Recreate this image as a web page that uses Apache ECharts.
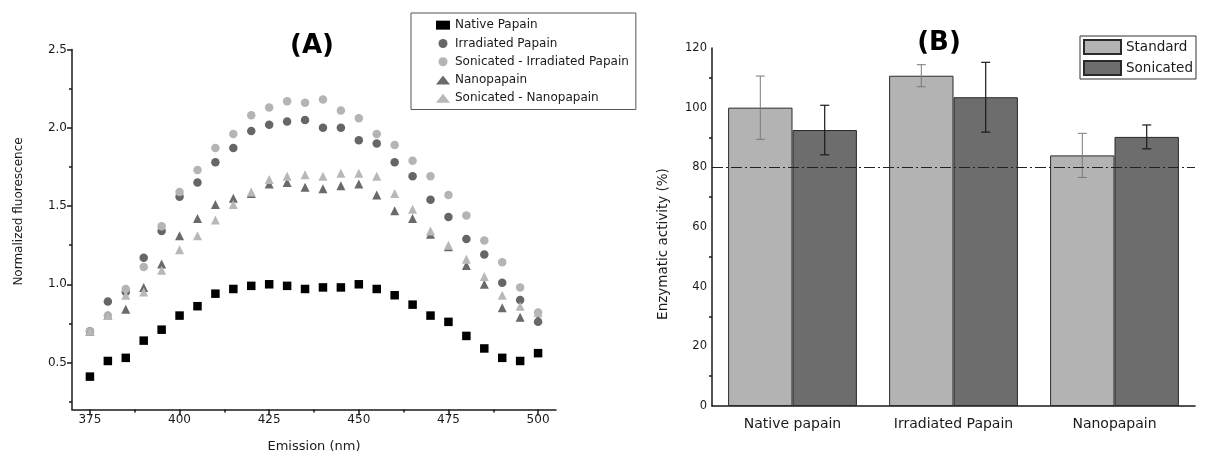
<!DOCTYPE html>
<html>
<head>
<meta charset="utf-8">
<script src="https://cdn.jsdelivr.net/npm/echarts@6/dist/echarts.min.js"></script>
<style>
  html, body { margin: 0; padding: 0; background: #fff; }
  #chart { width: 1213px; height: 462px; }
</style>
</head>
<body>
<div id="chart"></div>
<script>
// Panel A data (emission scan)
var wavelengths = [375, 380, 385, 390, 395, 400, 405, 410, 415, 420, 425, 430, 435,
                   440, 445, 450, 455, 460, 465, 470, 475, 480, 485, 490, 495, 500];
var nativePapain = [0.41, 0.51, 0.53, 0.64, 0.71, 0.80, 0.86, 0.94, 0.97, 0.99, 1.00, 0.99, 0.97,
                    0.98, 0.98, 1.00, 0.97, 0.93, 0.87, 0.80, 0.76, 0.67, 0.59, 0.53, 0.51, 0.56];
var irradiatedPapain = [0.70, 0.89, 0.95, 1.17, 1.34, 1.56, 1.65, 1.78, 1.87, 1.98, 2.02, 2.04, 2.05,
                        2.00, 2.00, 1.92, 1.90, 1.78, 1.69, 1.54, 1.43, 1.29, 1.19, 1.01, 0.90, 0.76];
var sonicatedIrradiated = [0.70, 0.80, 0.97, 1.11, 1.37, 1.59, 1.73, 1.87, 1.96, 2.08, 2.13, 2.17, 2.16,
                           2.18, 2.11, 2.06, 1.96, 1.89, 1.79, 1.69, 1.57, 1.44, 1.28, 1.14, 0.98, 0.82];
var nanopapain = [0.70, 0.80, 0.84, 0.98, 1.13, 1.31, 1.42, 1.51, 1.55, 1.58, 1.64, 1.65, 1.62,
                  1.61, 1.63, 1.64, 1.57, 1.47, 1.42, 1.32, 1.24, 1.12, 1.00, 0.85, 0.79, 0.78];
var sonicatedNano = [0.70, 0.80, 0.93, 0.95, 1.09, 1.22, 1.31, 1.41, 1.51, 1.59, 1.67, 1.69, 1.70,
                     1.69, 1.71, 1.71, 1.69, 1.58, 1.48, 1.34, 1.25, 1.16, 1.05, 0.93, 0.86, 0.82];
var xMajorTicks = [375, 400, 425, 450, 475, 500];
var xMinorTicks = [387.5, 412.5, 437.5, 462.5, 487.5];
var yMajorTicks = [0.5, 1.0, 1.5, 2.0, 2.5];
var yMinorTicks = [0.25, 0.75, 1.25, 1.75, 2.25];

// Panel B data (enzymatic activity)
var samples = ['Native papain', 'Irradiated Papain', 'Nanopapain'];
var standard = [100, 110.7, 84.0];
var standardErr = [10.6, 3.7, 7.4];
var sonicated = [92.5, 103.5, 90.2];
var sonicatedErr = [8.3, 11.7, 4.0];
var threshold = 80;

var font = 'DejaVu Sans';
var ink = '#1a1a1a';

function pairs(ys) {
  return wavelengths.map(function (x, i) { return [x, ys[i]]; });
}

function scatter(name, ys, symbol, size, color) {
  return {
    name: name, type: 'scatter', xAxisIndex: 0, yAxisIndex: 0,
    symbol: symbol, symbolSize: size, data: pairs(ys),
    itemStyle: { color: color, opacity: 1 }
  };
}

// error bar drawn at the centre of one bar of the pair (side = -1 left, +1 right)
function errorBars(values, errs, side, color, width) {
  return {
    type: 'custom', xAxisIndex: 2, yAxisIndex: 2, z: 5, silent: true,
    data: values.map(function (v, i) { return [i, v - errs[i], v + errs[i]]; }),
    renderItem: function (params, api) {
      var lo = api.coord([api.value(0), api.value(1)]);
      var hi = api.coord([api.value(0), api.value(2)]);
      var band = api.size([1, 0])[0];
      var x = lo[0] + side * band * 0.2;
      var cap = 4.5;
      var style = { stroke: color, lineWidth: width };
      return {
        type: 'group',
        children: [
          { type: 'line', shape: { x1: x, y1: lo[1], x2: x, y2: hi[1] }, style: style },
          { type: 'line', shape: { x1: x - cap, y1: hi[1], x2: x + cap, y2: hi[1] }, style: style },
          { type: 'line', shape: { x1: x - cap, y1: lo[1], x2: x + cap, y2: lo[1] }, style: style }
        ]
      };
    }
  };
}

var axisLine = { lineStyle: { color: ink, width: 1.5 } };
var tickStyle = { color: ink, width: 1.5 };
var labelStyle = { color: ink, fontFamily: font, fontSize: 12 };

var chart = echarts.init(document.getElementById('chart'));

chart.setOption({
  animation: false,
  textStyle: { fontFamily: font },
  title: [
    { text: '(A)', left: 312, top: 33, textAlign: 'center', padding: 0,
      textStyle: { fontFamily: font, fontSize: 26, fontWeight: 'bold', color: '#000' } },
    { text: '(B)', left: 939, top: 30, textAlign: 'center', padding: 0,
      textStyle: { fontFamily: font, fontSize: 26, fontWeight: 'bold', color: '#000' } }
  ],
  legend: [
    {
      left: 411, top: 13, orient: 'vertical',
      padding: [5, 7, 4, 25], itemWidth: 14, itemHeight: 9, itemGap: 4,
      borderColor: '#555', borderWidth: 1,
      textStyle: { fontFamily: font, fontSize: 12, color: ink, lineHeight: 14.3 },
      data: [
        { name: 'Native Papain', icon: 'rect' },
        { name: 'Irradiated Papain', icon: 'circle' },
        { name: 'Sonicated - Irradiated Papain', icon: 'circle' },
        { name: 'Nanopapain', icon: 'triangle' },
        { name: 'Sonicated - Nanopapain', icon: 'triangle' }
      ]
    },
    {
      left: 1080, top: 36, orient: 'vertical',
      padding: [3, 3, 3, 3], itemWidth: 37, itemHeight: 14, itemGap: 5,
      borderColor: '#333', borderWidth: 1,
      textStyle: { fontFamily: font, fontSize: 13.5, color: ink, lineHeight: 16 },
      data: [{ name: 'Standard', icon: 'rect' }, { name: 'Sonicated', icon: 'rect' }]
    }
  ],
  grid: [
    { left: 72, top: 49.5, width: 484, height: 360, containLabel: false },
    { left: 72, top: 49.5, width: 484, height: 360, containLabel: false },
    { left: 712, top: 48, width: 483, height: 358, containLabel: false },
    { left: 712, top: 48, width: 483, height: 358, containLabel: false }
  ],
  xAxis: [
    {
      gridIndex: 0, type: 'value', min: 370, max: 505,
      name: 'Emission (nm)', nameLocation: 'middle', nameGap: 31,
      nameTextStyle: { fontFamily: font, fontSize: 13, color: ink },
      axisLine: axisLine, splitLine: { show: false },
      axisTick: { customValues: xMajorTicks, length: 6, lineStyle: tickStyle },
      axisLabel: Object.assign({ customValues: xMajorTicks, margin: 4 }, labelStyle)
    },
    {
      gridIndex: 1, type: 'value', min: 370, max: 505,
      axisLine: { show: false }, splitLine: { show: false }, axisLabel: { show: false },
      axisTick: { customValues: xMinorTicks, length: 3, lineStyle: tickStyle }
    },
    {
      gridIndex: 2, type: 'category', data: samples,
      axisLine: axisLine, splitLine: { show: false },
      axisTick: { alignWithLabel: true, length: 6, lineStyle: tickStyle },
      axisLabel: { color: ink, fontFamily: font, fontSize: 14, margin: 11 }
    },
    {
      gridIndex: 3, type: 'category', data: samples,
      axisLine: { show: false }, splitLine: { show: false }, axisLabel: { show: false },
      axisTick: { length: 3, lineStyle: tickStyle }
    }
  ],
  yAxis: [
    {
      gridIndex: 0, type: 'value', min: 0.2, max: 2.5,
      name: 'Normalized fluorescence', nameLocation: 'middle', nameGap: 47,
      nameTextStyle: { fontFamily: font, fontSize: 12, color: ink, padding: [0, 0, 0, 36] },
      axisLine: { show: true, lineStyle: { color: ink, width: 1.5 } }, splitLine: { show: false },
      axisTick: { customValues: yMajorTicks, length: 5, lineStyle: tickStyle },
      axisLabel: Object.assign({ customValues: yMajorTicks, margin: 5,
        formatter: function (v) { return v.toFixed(1); } }, labelStyle)
    },
    {
      gridIndex: 1, type: 'value', min: 0.2, max: 2.5,
      axisLine: { show: false }, splitLine: { show: false }, axisLabel: { show: false },
      axisTick: { customValues: yMinorTicks, length: 3, lineStyle: tickStyle }
    },
    {
      gridIndex: 2, type: 'value', min: 0, max: 120, interval: 20,
      name: 'Enzymatic activity (%)', nameLocation: 'middle', nameGap: 42,
      nameTextStyle: { fontFamily: font, fontSize: 13.5, color: ink, padding: [0, 34, 0, 0] },
      axisLine: { show: true, lineStyle: { color: ink, width: 1.5 } }, splitLine: { show: false },
      axisTick: { length: 5, lineStyle: tickStyle },
      minorTick: { show: true, splitNumber: 2, length: 3, lineStyle: tickStyle },
      axisLabel: Object.assign({ margin: 5 }, labelStyle, { fontSize: 11.5 })
    },
    { gridIndex: 3, type: 'value', min: 0, max: 1, show: false }
  ],
  series: [
    scatter('Native Papain', nativePapain, 'rect', 8.5, '#000000'),
    scatter('Irradiated Papain', irradiatedPapain, 'circle', 8.5, '#666666'),
    scatter('Sonicated - Irradiated Papain', sonicatedIrradiated, 'circle', 8.5, '#b4b4b4'),
    scatter('Nanopapain', nanopapain, 'triangle', 9, '#6a6a6a'),
    scatter('Sonicated - Nanopapain', sonicatedNano, 'triangle', 9, '#b8b8b8'),
    {
      name: 'Standard', type: 'bar', xAxisIndex: 2, yAxisIndex: 2,
      barGap: '0%', barCategoryGap: '20%', data: standard,
      itemStyle: { color: '#b3b3b3', borderColor: '#2a2a2a', borderWidth: 1 }
    },
    {
      name: 'Sonicated', type: 'bar', xAxisIndex: 2, yAxisIndex: 2,
      barGap: '0%', barCategoryGap: '20%', data: sonicated,
      itemStyle: { color: '#6d6d6d', borderColor: '#2a2a2a', borderWidth: 1 },
      markLine: {
        silent: true, symbol: 'none', z: 6,
        label: { show: false },
        lineStyle: { color: '#222', width: 1, type: [11, 3, 2, 3] },
        data: [{ yAxis: threshold }]
      }
    },
    errorBars(standard, standardErr, -1, '#7a7a7a', 1),
    errorBars(sonicated, sonicatedErr, 1, '#1a1a1a', 1.2)
  ]
});
</script>
</body>
</html>
